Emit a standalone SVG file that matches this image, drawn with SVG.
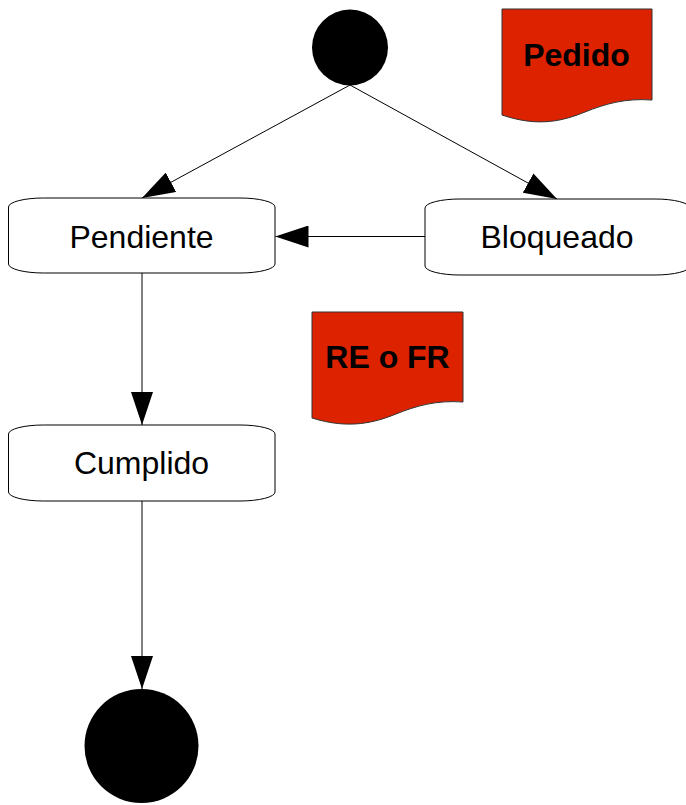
<svg xmlns="http://www.w3.org/2000/svg" width="686" height="805" viewBox="0 0 686 805">
<style>
.box{fill:#fff;stroke:#000;stroke-width:1}
.doc{fill:#dd2200;stroke:#333;stroke-width:1}
.lbl{font-family:"Liberation Sans",Arial,sans-serif;font-size:32px;fill:#000;text-anchor:middle}
.bold{font-weight:bold}
.edge{stroke:#000;stroke-width:1;fill:none;marker-end:url(#arr)}
</style>
<defs>
<marker id="arr" markerUnits="userSpaceOnUse" markerWidth="33" markerHeight="22" refX="33" refY="11" orient="auto">
<path d="M0,0 L33,11 L0,22 Z" fill="#000"/>
</marker>
</defs>
<g id="connectors">
<line class="edge" x1="350" y1="85" x2="142" y2="198"/>
<line class="edge" x1="350" y1="85" x2="557" y2="199"/>
<line class="edge" x1="425" y1="236.5" x2="275.5" y2="236.5"/>
<line class="edge" x1="142" y1="273" x2="142" y2="425"/>
<line class="edge" x1="142" y1="501" x2="142" y2="689"/>
</g>
<g id="start"><circle cx="350" cy="47.5" r="38" fill="#000"/></g>
<g id="end"><circle cx="141.5" cy="746" r="57" fill="#000"/></g>
<g id="pendiente">
<path class="box" d="M43.5,198 H240 A35,9 0 0 1 275,207 V264 A35,9 0 0 1 240,273 H43.5 A35,9 0 0 1 8.5,264 V207 A35,9 0 0 1 43.5,198 Z"/>
<text class="lbl" x="141.5" y="248">Pendiente</text>
</g>
<g id="bloqueado">
<path class="box" d="M460,199 H655 A35,9 0 0 1 690,208 V266 A35,9 0 0 1 655,275 H460 A35,9 0 0 1 425,266 V208 A35,9 0 0 1 460,199 Z"/>
<text class="lbl" x="557" y="248">Bloqueado</text>
</g>
<g id="cumplido">
<path class="box" d="M43.5,425 H240 A35,9 0 0 1 275,434 V492 A35,9 0 0 1 240,501 H43.5 A35,9 0 0 1 8.5,492 V434 A35,9 0 0 1 43.5,425 Z"/>
<text class="lbl" x="141.5" y="474">Cumplido</text>
</g>
<g id="pedido">
<path class="doc" d="M502,9 H652 V100 C625,98 605,104 585,112 C565,120 540,128 502,115 Z"/>
<text class="lbl bold" x="576.5" y="66">Pedido</text>
</g>
<g id="reofr">
<path class="doc" d="M312,312 H463 V402 C436,400 416,406 396,414 C376,422 350,430 312,418 Z"/>
<text class="lbl bold" x="387.5" y="368">RE o FR</text>
</g>
</svg>
